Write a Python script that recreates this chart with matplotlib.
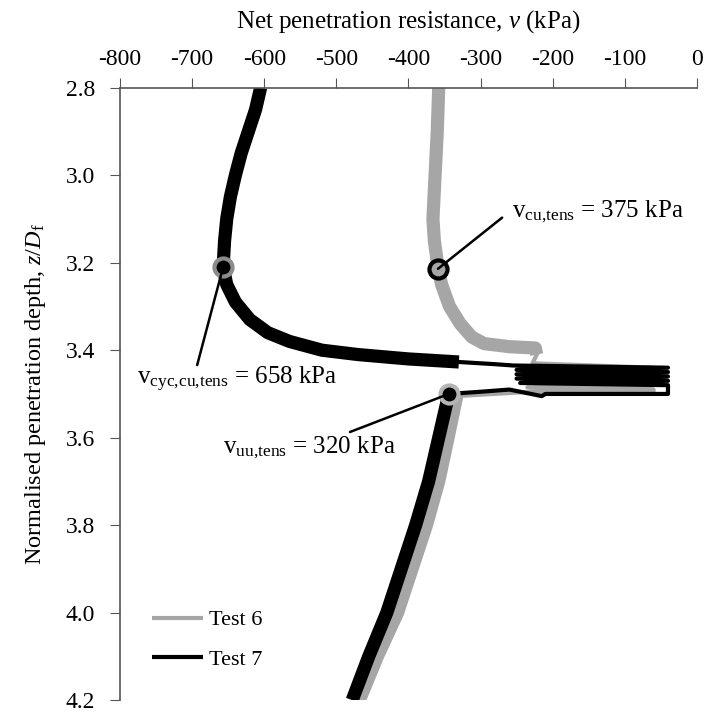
import numpy as np
import matplotlib
matplotlib.use('Agg')
import matplotlib.pyplot as plt

plt.rcParams['font.family'] = ['Liberation Serif', 'DejaVu Serif']
plt.rcParams['mathtext.fontset'] = 'custom'
plt.rcParams['mathtext.rm'] = 'Liberation Serif'
plt.rcParams['mathtext.it'] = 'Liberation Serif:italic'
plt.rcParams['axes.unicode_minus'] = False

# Test 6 (grey): monotonic parts and cyclic part
t6_z_top = [2.80, 2.90, 3.00, 3.10, 3.15, 3.21, 3.25, 3.30, 3.34, 3.37, 3.385, 3.392, 3.395, 3.41]
t6_v_top = [-358, -360, -363, -366, -364, -359, -354, -343, -328, -312, -295, -260, -224, -222]
t6_z_cyc = [3.41, 3.43, 3.44, 3.45, 3.46, 3.47, 3.48, 3.485, 3.49, 3.495, 3.495, 3.505]
t6_v_cyc = [-222, -228, -60, -240, -60, -240, -60, -235, -60, -60, -230, -333]
t6_z_bot = [3.505, 3.60, 3.70, 3.80, 3.90, 4.00, 4.10, 4.20]
t6_v_bot = [-333, -345, -358, -375, -395, -415, -443, -468]

# Test 7 (black)
t7_z_top = [2.80, 2.85, 2.90, 2.95, 3.00, 3.05, 3.10, 3.15, 3.21, 3.25, 3.29, 3.33, 3.36, 3.38, 3.40, 3.41, 3.42, 3.427]
t7_v_top = [-605, -612, -622, -632, -640, -647, -652, -655, -657, -652, -640, -620, -595, -565, -520, -470, -400, -330]
t7_z_cyc = [3.427, 3.432, 3.435, 3.44, 3.445, 3.45, 3.455, 3.46, 3.465, 3.47, 3.475, 3.48, 3.50, 3.50, 3.505, 3.49, 3.495, 3.50]
t7_v_cyc = [-330, -280, -255, -40, -250, -40, -250, -40, -250, -40, -245, -40, -40, -210, -215, -260, -300, -344]
t7_z_bot = [3.50, 3.60, 3.70, 3.80, 3.90, 4.00, 4.10, 4.20]
t7_v_bot = [-344, -358, -372, -390, -410, -430, -455, -478]

# highlighted points
pt_cu = (-359, 3.214)
pt_cyc = (-657, 3.21)
pt_uu = (-344, 3.50)

grey = '#a6a6a6'

fig = plt.figure(figsize=(7.06, 7.13), dpi=100)
ax = fig.add_axes([0.170, 0.018, 0.817, 0.859])

ax.plot(t6_v_top, t6_z_top, color=grey, lw=9.5, solid_capstyle='butt', solid_joinstyle='round', label='Test 6')
ax.plot(t6_v_cyc, t6_z_cyc, color=grey, lw=3)
ax.plot(t6_v_bot, t6_z_bot, color=grey, lw=9.5, solid_capstyle='butt')

ax.plot(t7_v_top, t7_z_top, color='black', lw=9.5, solid_capstyle='butt', solid_joinstyle='round', label='Test 7')
ax.plot(t7_v_cyc, t7_z_cyc, color='black', lw=3)
ax.plot(t7_v_bot, t7_z_bot, color='black', lw=9.5, solid_capstyle='butt')

# annotation lines
line_style = dict(arrowstyle='-', lw=1.8, color='black', shrinkA=0, shrinkB=0)
ax.annotate('', xy=pt_cu, xytext=(-270, 3.097), arrowprops=line_style)
ax.annotate('', xy=pt_cyc, xytext=(-693, 3.434), arrowprops=line_style)
ax.annotate('', xy=pt_uu, xytext=(-481, 3.587), arrowprops=line_style)

ax.plot(*pt_cu, 'o', ms=13, mfc=grey, mec='black', mew=3)
ax.plot(*pt_cyc, 'o', ms=13, mfc='black', mec='#8c8c8c', mew=3)
ax.plot(*pt_uu, 'o', ms=13, mfc='black', mec='#b4b4b4', mew=3)

fs_ann = 18
ax.text(-257, 3.084, r'$\mathrm{v}_{\mathrm{cu{,}tens}}$ = 375 kPa', fontsize=fs_ann, va='center', ha='left')
ax.text(-776, 3.468, r'$\mathrm{v}_{\mathrm{cyc{,}cu{,}tens}}$ = 658 kPa', fontsize=fs_ann, va='center', ha='left')
ax.text(-657, 3.622, r'$\mathrm{v}_{\mathrm{uu{,}tens}}$ = 320 kPa', fontsize=fs_ann, va='center', ha='left')

ax.set_xlim(-800, 0)
ax.set_ylim(4.2, 2.8)
ax.set_xticks(np.arange(-800, 1, 100))
ax.set_yticks(np.arange(2.8, 4.21, 0.2))
ax.set_yticklabels(['%.1f' % v for v in np.arange(2.8, 4.21, 0.2)])
ax.xaxis.tick_top()
ax.xaxis.set_label_position('top')
ax.tick_params(axis='both', labelsize=17, direction='out', length=7, color='#555555')
ax.tick_params(axis='x', pad=6)
ax.tick_params(axis='y', pad=11)
ax.spines['right'].set_visible(False)
ax.spines['bottom'].set_visible(False)
for s in ['left', 'top']:
    ax.spines[s].set_color('#555555')
    ax.spines[s].set_linewidth(1.2)

ax.set_xlabel(r'Net penetration resistance, $\mathit{v}$ (kPa)', fontsize=18, labelpad=15)
ax.set_ylabel(r'Normalised penetration depth, $\mathit{z/D}_{\mathrm{f}}$', fontsize=17.5, labelpad=13)

leg = ax.legend(loc='upper left', bbox_to_anchor=(0.02, 0.18), frameon=False, fontsize=16,
                handlelength=2.3, handletextpad=0.3, labelspacing=0.85)
for h in leg.get_lines():
    h.set_linewidth(3)

fig.savefig('out.png', dpi=100)
